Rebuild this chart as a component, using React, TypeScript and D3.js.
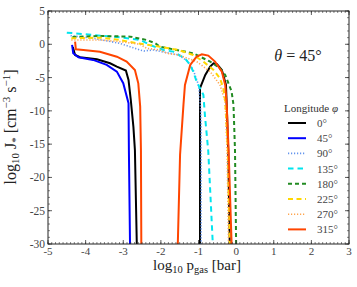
import * as d3 from 'd3';

const W = 357;
const H = 287;
const margin = { top: 11, right: 8, bottom: 43, left: 48 };

const xTicks = [-5, -4, -3, -2, -1, 0, 1, 2, 3];
const yTicks = [5, 0, -5, -10, -15, -20, -25, -30];

// each series: x values and y values, NaN splits a line into two pieces
const phi0X = [-4.34, -4.28, -4.15, -3.7, -3.35, -3.17, -2.93, -2.86, -2.8, -2.73, -2.69, -2.64, NaN, -0.96, -0.96, -0.82, -0.69, -0.6, -0.51, -0.38, -0.27, -0.25, -0.21, -0.17];
const phi0Y = [-0.4, -1.6, -1.95, -2.25, -2.85, -3.35, -3.95, -5.35, -8.35, -12.4, -15.9, -30, NaN, -30, -6.6, -4.6, -3.36, -2.86, -3.0, -3.86, -6.1, -9.1, -15.9, -30];

const phi45X = [-4.36, -4.33, -4.19, -3.8, -3.44, -3.17, -3.0, -2.86, -2.85, -2.82];
const phi45Y = [-0.1, -1.35, -1.95, -2.35, -3.1, -4.1, -5.85, -8.85, -15.9, -30];

const phi90X = [-4.4, -3.8, -3.1, -2.55, -2.45, -2.2, -1.76, -1.53, -1.3, -1.14, -1.0, -0.95, -0.93, -0.93];
const phi90Y = [1.3, 0.9, 0.15, -0.86, -1.0, -0.86, -1.35, -1.6, -2.5, -3.86, -6.1, -9.1, -12, -30];

const phi135X = [-4.5, -3.8, -3.0, -2.55, -2.29, -1.93, -1.67, -1.36, -1.22, -1.14, -1.05, -0.87, -0.83, -0.74, -0.62];
const phi135Y = [1.75, 1.4, 1.0, 0.65, -0.1, -0.86, -1.1, -2.1, -3.1, -4.1, -5.6, -7.6, -10.6, -16.1, -30];

const phi180X = [-4.35, -3.62, -2.82, -2.38, -2.15, -2.02, -1.58, -1.14, -0.69, -0.43, -0.29, -0.12, -0.07, -0.03, 0.0];
const phi180Y = [1.1, 1.25, 1.15, 0.65, 0.15, -0.36, -0.86, -1.35, -2.6, -3.6, -4.6, -7.1, -9.1, -15.9, -30];

const phi225X = [-4.38, -3.62, -3.09, -2.64, -2.02, -1.53, -1.14, -0.87, -0.6, -0.43, -0.34, -0.29, -0.22, -0.17];
const phi225Y = [0.9, 1.0, 0.65, 0.15, -0.36, -0.86, -1.6, -2.6, -3.86, -5.1, -6.6, -8.6, -15.9, -30];

const phi270X = [-4.38, -3.62, -3.09, -2.55, -2.38, -2.02, -1.84, -1.53, -1.05, -0.69, -0.43, -0.29, -0.24, -0.2];
const phi270Y = [0.65, 0.65, 0.4, 0.0, -0.6, -0.86, -1.35, -1.6, -2.6, -4.1, -6.1, -8.6, -15.9, -30];

const phi315X = [-4.28, -4.26, -4.06, -3.62, -3.17, -2.91, -2.69, -2.6, -2.55, -2.53, -2.52, NaN, -1.55, -1.49, -1.4, -1.36, -1.22, -1.05, -0.91, -0.74, -0.56, -0.38, -0.29, -0.25, -0.2, -0.12];
const phi315Y = [0.39, -0.75, -0.86, -1.11, -1.86, -2.61, -3.86, -5.86, -9.37, -15.9, -30, NaN, -30, -16.6, -9.1, -6.1, -3.1, -1.86, -1.5, -1.7, -2.6, -4.1, -6.1, -9.1, -15.9, -30];

const labels = ['0°', '45°', '90°', '135°', '180°', '225°', '270°', '315°'];
const seriesX = [phi0X, phi45X, phi90X, phi135X, phi180X, phi225X, phi270X, phi315X];
const seriesY = [phi0Y, phi45Y, phi90Y, phi135Y, phi180Y, phi225Y, phi270Y, phi315Y];
const colors = ['#000000', '#0000ff', '#6495ed', '#00e5ee', '#228b22', '#ffd700', '#ffa54f', '#ff4500'];
const dashes = ['', '', '1.2,1.8', '5.5,4', '4,3', '5,3.5', '1.2,1.8', ''];

const serif = "'Liberation Serif', 'DejaVu Serif', serif";

export default function App() {
  const iw = W - margin.left - margin.right;
  const ih = H - margin.top - margin.bottom;
  const x = d3.scaleLinear().domain([-5, 3]).range([0, iw]);
  const y = d3.scaleLinear().domain([-30, 5]).range([ih, 0]);

  const line = d3.line<[number, number]>()
    .defined(d => !isNaN(d[0]) && !isNaN(d[1]))
    .x(d => x(d[0]))
    .y(d => y(d[1]));

  const xMinor = d3.range(-50, 31).map(i => i / 10);
  const yMinor = d3.range(-30, 6);

  const legX = 288;
  const legY0 = 123;
  const legStep = 15.2;
  const fmt = (v: number) => (v < 0 ? '-' + Math.abs(v) : String(v));

  return (
    <div style={{ position: 'fixed', left: 0, top: 0 }}>
      <svg width={W} height={H} style={{ display: 'block', background: '#fff', fontFamily: serif }}>
        <g transform={`translate(${margin.left},${margin.top})`}>
          <clipPath id="plotclip">
            <rect x={0} y={0} width={iw} height={ih} />
          </clipPath>
          <g clipPath="url(#plotclip)" fill="none">
            {seriesX.map((xs, i) => (
              <path
                key={labels[i]}
                d={line(xs.map((v, j) => [v, seriesY[i][j]] as [number, number])) ?? ''}
                stroke={colors[i]}
                strokeWidth={i === 2 || i === 6 ? 1.6 : 2}
                strokeDasharray={dashes[i] || undefined}
              />
            ))}
          </g>

          {/* minor ticks, all four sides, inward */}
          {xMinor.map(v => (
            <g key={'xm' + v} stroke="#333" strokeWidth={0.6}>
              <line x1={x(v)} x2={x(v)} y1={ih} y2={ih - 2} />
              <line x1={x(v)} x2={x(v)} y1={0} y2={2} />
            </g>
          ))}
          {yMinor.map(v => (
            <g key={'ym' + v} stroke="#333" strokeWidth={0.6}>
              <line x1={0} x2={2} y1={y(v)} y2={y(v)} />
              <line x1={iw} x2={iw - 2} y1={y(v)} y2={y(v)} />
            </g>
          ))}
          {xTicks.map(v => (
            <g key={'xt' + v}>
              <line x1={x(v)} x2={x(v)} y1={ih} y2={ih - 4} stroke="#333" strokeWidth={0.8} />
              <line x1={x(v)} x2={x(v)} y1={0} y2={4} stroke="#333" strokeWidth={0.8} />
              <text x={x(v)} y={ih + 10.5} textAnchor="middle" fontSize={11} fill="#444" style={{ fontFamily: serif }}>
                {fmt(v)}
              </text>
            </g>
          ))}
          {yTicks.map(v => (
            <g key={'yt' + v}>
              <line x1={0} x2={4} y1={y(v)} y2={y(v)} stroke="#333" strokeWidth={0.8} />
              <line x1={iw} x2={iw - 4} y1={y(v)} y2={y(v)} stroke="#333" strokeWidth={0.8} />
              <text x={-3} y={y(v) + 4} textAnchor="end" fontSize={11.5} fill="#444" style={{ fontFamily: serif }}>
                {fmt(v)}
              </text>
            </g>
          ))}
          <rect x={0} y={0} width={iw} height={ih} fill="none" stroke="#222" strokeWidth={1} />
        </g>

        {/* axis labels */}
        <text x={197} y={270} textAnchor="middle" fontSize={15} fill="#222" style={{ fontFamily: serif }}>
          log<tspan fontSize={10.5} dy={3}>10</tspan>
          <tspan dy={-3}> p</tspan>
          <tspan fontSize={10.5} dy={3}>gas</tspan>
          <tspan dy={-3}> [bar]</tspan>
        </text>
        <text transform="translate(16,127) rotate(-90)" textAnchor="middle" fontSize={16} fill="#222" style={{ fontFamily: serif }}>
          log<tspan fontSize={11} dy={3}>10</tspan>
          <tspan dy={-3}> J</tspan>
          <tspan fontSize={11} dy={3}>*</tspan>
          <tspan dy={-3}> [cm</tspan>
          <tspan fontSize={11} dy={-6}>−3</tspan>
          <tspan dy={6}> s</tspan>
          <tspan fontSize={11} dy={-6}>−1</tspan>
          <tspan dy={6}>]</tspan>
        </text>

        <text x={298} y={61} textAnchor="middle" fontSize={16} fill="#222" style={{ fontFamily: serif }}>
          <tspan fontStyle="italic">θ</tspan> = 45°
        </text>

        {/* legend */}
        <text x={311} y={112} textAnchor="middle" fontSize={11} fill="#333" style={{ fontFamily: serif }}>
          Longitude <tspan fontStyle="italic">φ</tspan>
        </text>
        {labels.map((lab, i) => (
          <g key={'leg' + lab} transform={`translate(0,${legY0 + i * legStep})`}>
            <line
              x1={legX}
              x2={legX + 18}
              y1={0}
              y2={0}
              stroke={colors[i]}
              strokeWidth={i === 2 || i === 6 ? 1.6 : 2}
              strokeDasharray={dashes[i] || undefined}
            />
            <text x={317} y={4} fontSize={11} fill="#444" style={{ fontFamily: serif }}>{lab}</text>
          </g>
        ))}
      </svg>
    </div>
  );
}
